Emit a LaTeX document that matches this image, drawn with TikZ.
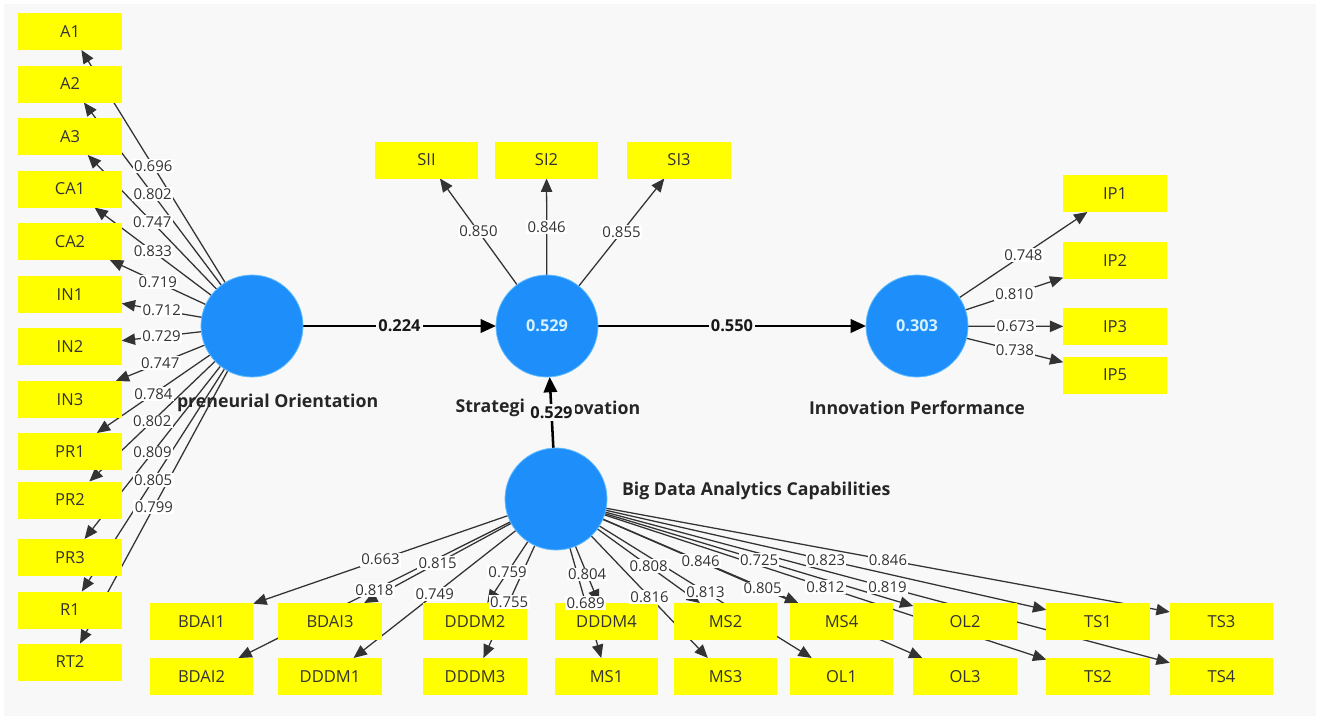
\documentclass[tikz,border=0pt]{standalone}
\usepackage{fontspec}
\setmainfont{Open Sans}
\usetikzlibrary{arrows.meta}

\pgfdeclarelayer{bg}
\pgfdeclarelayer{edges}
\pgfdeclarelayer{labels}
\pgfsetlayers{bg,edges,main,labels}

\definecolor{page}{HTML}{F8F8F8}
\definecolor{lv}{HTML}{1E8FFA}
\definecolor{lvrim}{HTML}{62BCFF}
\definecolor{lvtext}{HTML}{D6F1FF}
\definecolor{mv}{HTML}{FFFF00}
\definecolor{ink}{HTML}{333333}

\tikzset{
  every node/.style={outer sep=0pt},
  ind/.style={rectangle, fill=mv, minimum width=77.6pt, minimum height=27.75pt,
    inner sep=0pt, font=\fontsize{12.4}{14}\selectfont, text=ink},
  latent/.style={circle, fill=lv, draw=lvrim, line width=0.6pt, minimum size=76.5pt,
    inner sep=0pt, text=lvtext, font=\bfseries\fontsize{12.2}{14}\selectfont},
  caption/.style={inner sep=0pt, font=\bfseries\fontsize{13.3}{15}\selectfont, text=black!85},
  outerpath/.style={draw=ink, line width=0.95pt, -{Triangle[length=10pt,width=8.5pt]}},
  innerpath/.style={draw=black, line width=1.9pt, -{Triangle[length=11.5pt,width=10pt]}},
  loadlbl/.style={fill=white, inner sep=1pt, font=\fontsize{11.2}{12}\selectfont, text=ink},
  pathlbl/.style={fill=page, inner xsep=1.5pt, inner ysep=2pt,
    font=\bfseries\fontsize{12.3}{14}\selectfont, text=black!90},
}

% outer loading: latent variable #1 -> indicator #2, weight #3
\newcommand\loading[3]{%
  \begin{pgfonlayer}{edges}\draw[outerpath] (#1) -- coordinate (m-#2) (#2);\end{pgfonlayer}
  \begin{pgfonlayer}{labels}\node[loadlbl] at (m-#2) {#3};\end{pgfonlayer}}
% structural path: #1 -> #2, coefficient #3, label name #4
\newcommand\structpath[4]{%
  \begin{pgfonlayer}{edges}\draw[innerpath] (#1) -- coordinate (m-#4) (#2);\end{pgfonlayer}
  \begin{pgfonlayer}{labels}\node[pathlbl] at (m-#4) {#3};\end{pgfonlayer}}

\begin{document}
\begin{tikzpicture}[x=0.75pt,y=-0.75pt]
\useasboundingbox (0,0) rectangle (1320,722);
\begin{pgfonlayer}{bg}
  \fill[white] (0,0) rectangle (1320,722);
  \fill[page] (4,4) rectangle (1316,716);
\end{pgfonlayer}

% latent variables
\node[latent] (EO) at (252,326) {};
\node[latent] (SI) at (547,326) {0.529};
\node[latent] (IP) at (917,326) {0.303};
\node[latent] (BD) at (556,499) {};

% captions
\node[caption, anchor=west] (cEO) at (177,403) {preneurial Orientation};
\node[caption, anchor=east] (cSIa) at (525,408) {Strategi};
\node[caption, anchor=west] (cSIb) at (573,408) {ovation};
\node[caption] (cIP) at (917,408) {Innovation Performance};
\node[caption, anchor=west] (cBD) at (622,491) {Big Data Analytics Capabilities};

% entrepreneurial orientation indicators
\node[ind] (A1)  at (70,31.5)  {A1};
\node[ind] (A2)  at (70,84)    {A2};
\node[ind] (A3)  at (70,136.5) {A3};
\node[ind] (CA1) at (70,189)   {CA1};
\node[ind] (CA2) at (70,241.5) {CA2};
\node[ind] (IN1) at (70,294.5) {IN1};
\node[ind] (IN2) at (70,346.5) {IN2};
\node[ind] (IN3) at (70,399.5) {IN3};
\node[ind] (PR1) at (70,451.5) {PR1};
\node[ind] (PR2) at (70,500)   {PR2};
\node[ind] (PR3) at (70,557.5) {PR3};
\node[ind] (R1)  at (70,610)   {R1};
\node[ind] (RT2) at (70,662)   {RT2};

% strategic innovation indicators
\node[ind] (SII) at (426.5,160) {SII};
\node[ind] (SI2) at (546.5,160) {SI2};
\node[ind] (SI3) at (679,160)   {SI3};

% innovation performance indicators
\node[ind] (IP1) at (1115,193.5) {IP1};
\node[ind] (IP2) at (1115,260.5) {IP2};
\node[ind] (IP3) at (1115,326.5) {IP3};
\node[ind] (IP5) at (1115,375)   {IP5};

% big data analytics capabilities indicators
\node[ind] (BDAI1) at (201.5,621.5) {BDAI1};
\node[ind] (BDAI3) at (330,621.5)   {BDAI3};
\node[ind] (DDDM2) at (475,621.5)   {DDDM2};
\node[ind] (DDDM4) at (606.5,621.5) {DDDM4};
\node[ind] (MS2)   at (725.5,621.5) {MS2};
\node[ind] (MS4)   at (841.5,621.5) {MS4};
\node[ind] (OL2)   at (965,621.5)   {OL2};
\node[ind] (TS1)   at (1098,621.5)  {TS1};
\node[ind] (TS3)   at (1221.5,621.5){TS3};
\node[ind] (BDAI2) at (201.5,676.5) {BDAI2};
\node[ind] (DDDM1) at (330,676.5)   {DDDM1};
\node[ind] (DDDM3) at (475,676.5)   {DDDM3};
\node[ind] (MS1)   at (606.5,676.5) {MS1};
\node[ind] (MS3)   at (725.5,676.5) {MS3};
\node[ind] (OL1)   at (841.5,676.5) {OL1};
\node[ind] (OL3)   at (965,676.5)   {OL3};
\node[ind] (TS2)   at (1098,676.5)  {TS2};
\node[ind] (TS4)   at (1221.5,676.5){TS4};

% outer model
\loading{EO}{A1}{0.696}
\loading{EO}{A2}{0.802}
\loading{EO}{A3}{0.747}
\loading{EO}{CA1}{0.833}
\loading{EO}{CA2}{0.719}
\loading{EO}{IN1}{0.712}
\loading{EO}{IN2}{0.729}
\loading{EO}{IN3}{0.747}
\loading{EO}{PR1}{0.784}
\loading{EO}{PR2}{0.802}
\loading{EO}{PR3}{0.809}
\loading{EO}{R1}{0.805}
\loading{EO}{RT2}{0.799}

\loading{SI}{SII}{0.850}
\loading{SI}{SI2}{0.846}
\loading{SI}{SI3}{0.855}

\loading{IP}{IP1}{0.748}
\loading{IP}{IP2}{0.810}
\loading{IP}{IP3}{0.673}
\loading{IP}{IP5}{0.738}

\loading{BD}{BDAI1}{0.663}
\loading{BD}{BDAI2}{0.818}
\loading{BD}{BDAI3}{0.815}
\loading{BD}{DDDM1}{0.749}
\loading{BD}{DDDM2}{0.759}
\loading{BD}{DDDM3}{0.755}
\loading{BD}{DDDM4}{0.804}
\loading{BD}{MS1}{0.689}
\loading{BD}{MS2}{0.808}
\loading{BD}{MS3}{0.816}
\loading{BD}{MS4}{0.846}
\loading{BD}{OL1}{0.813}
\loading{BD}{OL2}{0.725}
\loading{BD}{OL3}{0.805}
\loading{BD}{TS1}{0.823}
\loading{BD}{TS2}{0.812}
\loading{BD}{TS3}{0.846}
\loading{BD}{TS4}{0.819}

% structural model
\structpath{EO}{SI}{0.224}{eosi}
\structpath{SI}{IP}{0.550}{siip}
\structpath{BD}{SI}{0.529}{bdsi}
\end{tikzpicture}
\end{document}
